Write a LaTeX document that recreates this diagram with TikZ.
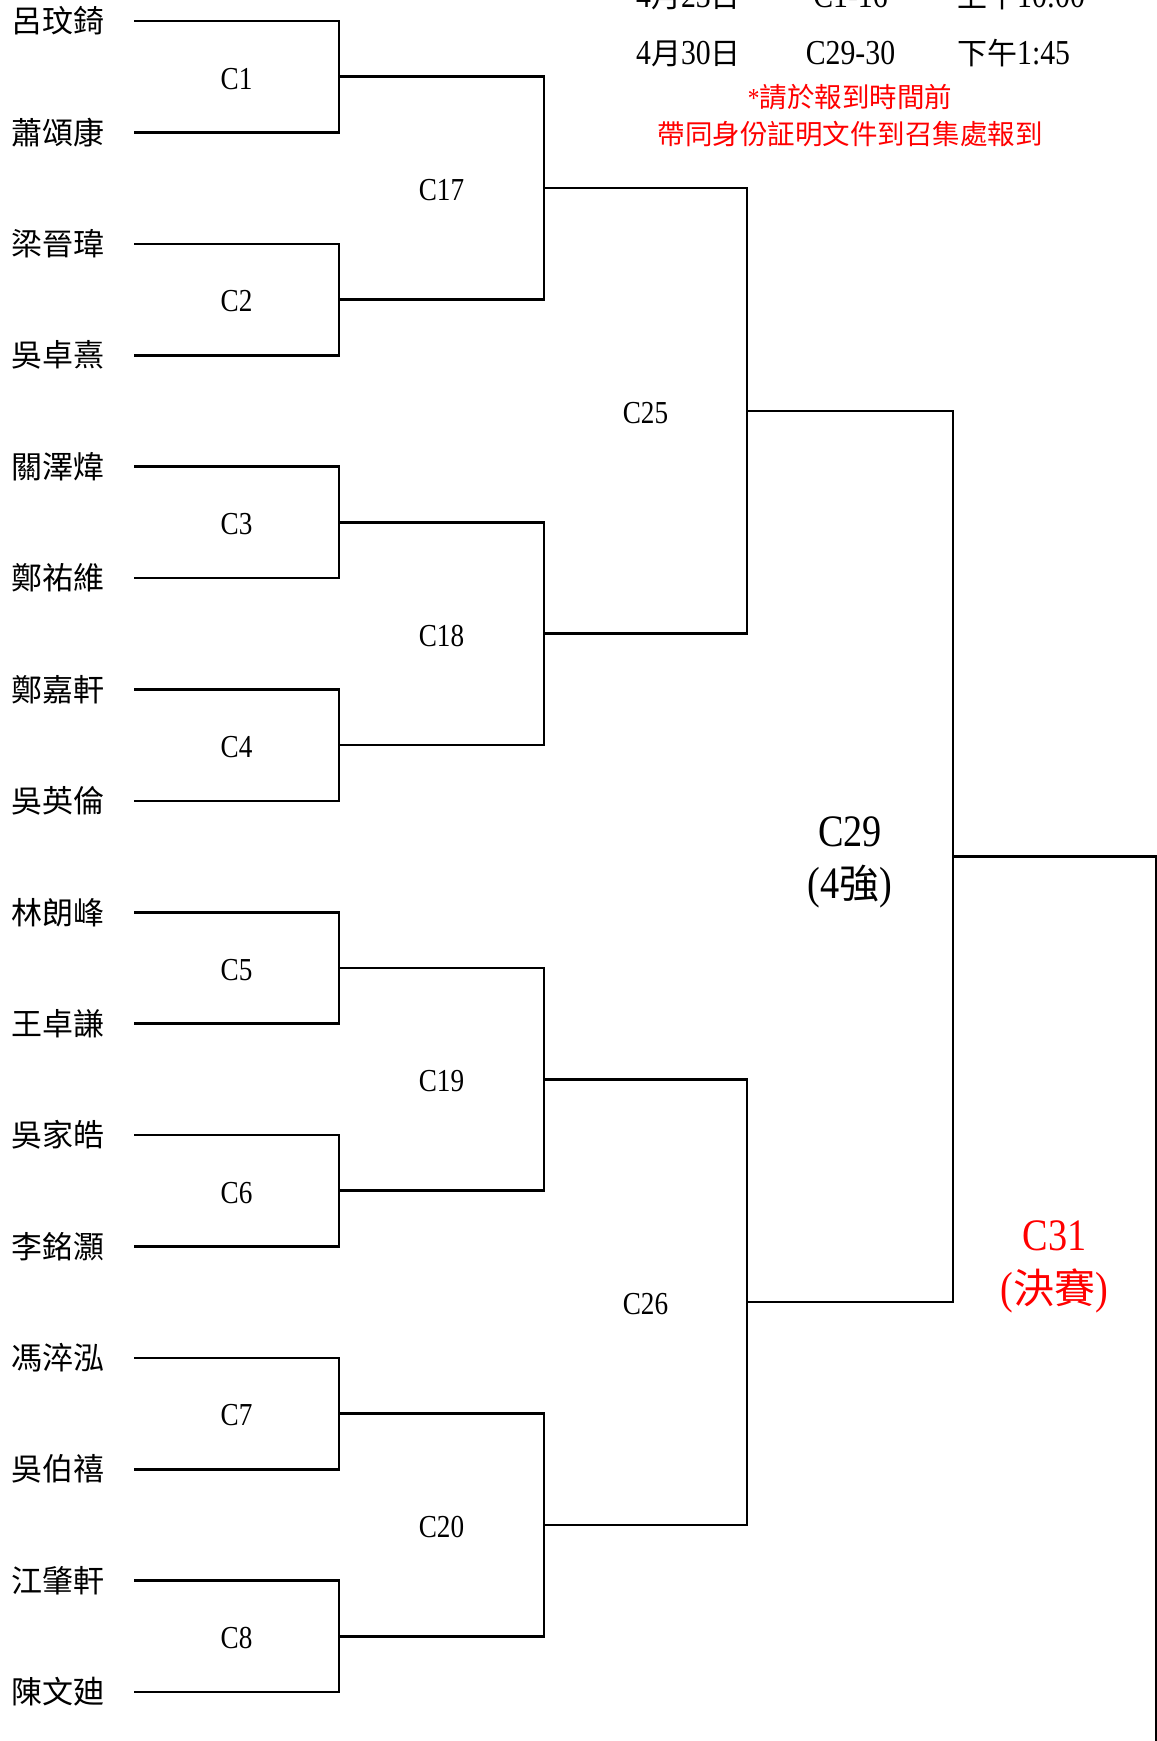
\documentclass[tikz,border=0pt]{standalone}
\usepackage{fontspec}
\setmainfont[FakeStretch=0.85]{Liberation Serif}
\newfontfamily\cjk{Noto Sans CJK TC}
\newcommand\zhs[2]{{\fontsize{#1}{#1}\cjk #2}}
\tikzset{
  wire/.style={line width=2.6pt},
  pname/.style={anchor=west, inner sep=0pt, font=\fontsize{31}{31}\cjk},
  mlabel/.style={inner sep=0pt, font=\fontsize{32}{32}\selectfont},
  biglabel/.style={inner sep=0pt, font=\fontsize{45}{45}\selectfont},
  info/.style={inner sep=0pt, font=\fontsize{35}{35}\selectfont},
  note/.style={inner sep=0pt, anchor=base, text=red, font=\fontsize{27.5}{27.5}\cjk},
}
\begin{document}
\begin{tikzpicture}[x=1pt,y=-1pt]
\useasboundingbox (0,0) rectangle (1157,1741);
\clip (0,0) rectangle (1157,1741);

% players
\foreach \i/\nm in {0/呂玟錡,1/蕭頌康,2/梁晉瑋,3/吳卓熹,4/關澤煒,5/鄭祐維,6/鄭嘉軒,7/吳英倫,8/林朗峰,9/王卓謙,10/吳家皓,11/李銘灝,12/馮淬泓,13/吳伯禧,14/江肇軒,15/陳文廸}{
  \node[pname] (p\i) at (11,{21+111.4*\i}) {\nm};
  \coordinate (s\i) at (134,{21+111.4*\i});
}

% round 1
\foreach \j in {0,...,7}{
  \pgfmathtruncatemacro\a{2*\j}
  \pgfmathtruncatemacro\b{2*\j+1}
  \pgfmathtruncatemacro\c{\j+1}
  \coordinate (m\j) at (339,{76.7+222.8*\j});
  \draw[wire] (s\a) -| (m\j) |- (s\b);
  \node[mlabel] (L\c) at (236.5,{78.7+222.8*\j}) {C\c};
}

% round 2
\foreach \j in {0,...,3}{
  \pgfmathtruncatemacro\a{2*\j}
  \pgfmathtruncatemacro\b{2*\j+1}
  \pgfmathtruncatemacro\c{\j+17}
  \coordinate (n\j) at (544,{188.1+445.6*\j});
  \draw[wire] (m\a) -| (n\j) |- (m\b);
  \node[mlabel] (L\c) at (441.5,{190.1+445.6*\j}) {C\c};
}

% round 3
\foreach \j in {0,1}{
  \pgfmathtruncatemacro\a{2*\j}
  \pgfmathtruncatemacro\b{2*\j+1}
  \pgfmathtruncatemacro\c{\j+25}
  \coordinate (q\j) at (747,{410.9+891.2*\j});
  \draw[wire] (n\a) -| (q\j) |- (n\b);
  \node[mlabel] (L\c) at (645.5,{412.9+891.2*\j}) {C\c};
}

% semi-final
\coordinate (t) at (953,856.5);
\draw[wire] (q0) -| (t) |- (q1);
\coordinate (f1) at (1156,856.5);
\coordinate (f2) at (1156,1760);
\draw[wire] (t) -- (f1) -- (f2);

\node[biglabel] (c29a) at (850,832) {C29};
\node[biglabel] (c29b) at (850,887) {(4\zhs{40}{強})};
\node[biglabel,text=red] (c31a) at (1054.5,1236) {C31};
\node[biglabel,text=red] (c31b) at (1054.5,1291) {(\zhs{41}{決賽})};

% schedule
\node[info,anchor=base west] (d1) at (636,7) {4\zhs{30}{月}23\zhs{30}{日}};
\node[info,anchor=base] (g1) at (850.5,7) {C1-16};
\node[info,anchor=base west] (h1) at (957,7) {\zhs{30}{上午}10:00};
\node[info,anchor=base west] (d2) at (636,64) {4\zhs{30}{月}30\zhs{30}{日}};
\node[info,anchor=base] (g2) at (850.5,64) {C29-30};
\node[info,anchor=base west] (h2) at (957,64) {\zhs{30}{下午}1:45};

\node[note] (n1) at (850,107) {{\rmfamily\fontsize{27.5}{27.5}\selectfont *}請於報到時間前};
\node[note] (n2) at (850,144) {帶同身份証明文件到召集處報到};
\end{tikzpicture}
\end{document}
